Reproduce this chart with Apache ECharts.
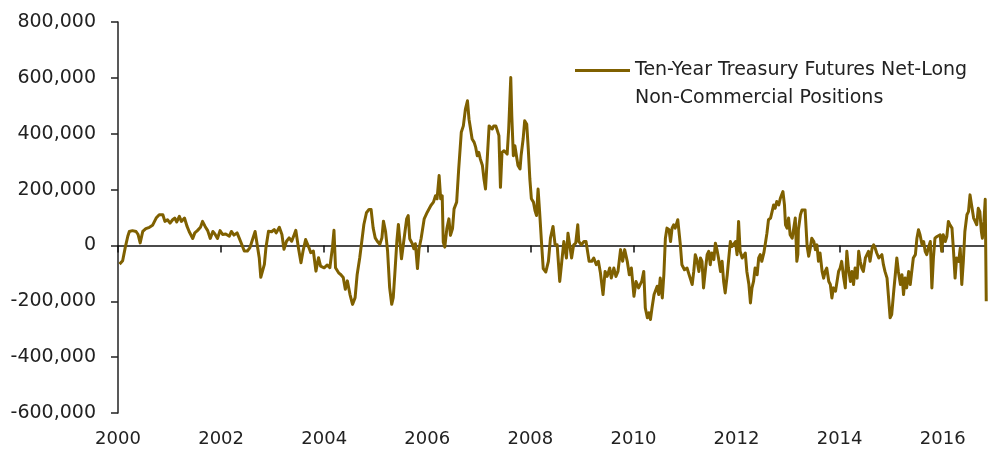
<!DOCTYPE html>
<html>
<head>
<meta charset="utf-8">
<script src="https://cdn.jsdelivr.net/npm/echarts@6/dist/echarts.min.js"></script>
<style>
html,body{margin:0;padding:0;background:#fff;}
#chart{width:988px;height:452px;}
</style>
</head>
<body>
<div id="chart"></div>
<script>
// Decimal-year dates of the readings
const dates = [
2000.03,2000.06,2000.09,2000.14,2000.19,2000.22,2000.28,2000.35,2000.39,2000.43,2000.48,2000.54,2000.61,2000.67,2000.74,2000.80,2000.87,2000.91,2000.96,
2001.01,2001.06,2001.10,2001.14,2001.19,2001.23,2001.29,2001.34,2001.38,2001.45,2001.49,2001.54,2001.60,2001.64,2001.69,2001.74,2001.79,2001.84,2001.88,2001.93,2001.98,
2002.03,2002.09,2002.16,2002.20,2002.25,2002.31,2002.35,2002.40,2002.45,2002.51,2002.56,2002.61,2002.66,2002.69,2002.74,2002.77,2002.79,2002.84,2002.87,2002.92,2002.98,
2003.03,2003.07,2003.13,2003.18,2003.22,2003.27,2003.32,2003.37,2003.42,2003.45,2003.50,2003.55,2003.59,2003.64,2003.70,2003.74,2003.79,2003.84,2003.89,2003.93,
2004.00,2004.06,2004.11,2004.16,2004.19,2004.22,2004.28,2004.32,2004.37,2004.41,2004.45,2004.50,2004.55,2004.60,2004.64,2004.69,2004.73,2004.77,2004.82,2004.87,2004.91,2004.95,2004.99,
2005.03,2005.08,2005.12,2005.15,2005.19,2005.23,2005.27,2005.31,2005.34,2005.37,2005.41,2005.44,2005.50,2005.55,2005.60,2005.63,2005.66,2005.71,2005.74,2005.77,2005.81,2005.84,2005.88,2005.94,
2006.00,2006.07,2006.12,2006.16,2006.19,2006.23,2006.26,2006.29,2006.31,2006.34,2006.38,2006.42,2006.45,2006.49,2006.52,2006.57,2006.61,2006.66,2006.70,2006.74,2006.78,2006.81,2006.84,2006.87,2006.91,2006.94,2006.97,
2007.00,2007.03,2007.07,2007.10,2007.13,2007.16,2007.20,2007.23,2007.26,2007.29,2007.33,2007.36,2007.39,2007.42,2007.45,2007.49,2007.52,2007.55,2007.58,2007.62,2007.64,2007.67,2007.70,2007.73,2007.76,2007.80,2007.82,2007.86,2007.89,2007.93,2007.96,2007.99,
2008.02,2008.06,2008.09,2008.12,2008.15,2008.18,2008.22,2008.25,2008.30,2008.35,2008.39,2008.44,2008.48,2008.52,2008.57,2008.61,2008.65,2008.70,2008.73,2008.76,2008.80,2008.84,2008.88,2008.92,2008.94,2008.99,
2009.04,2009.08,2009.14,2009.19,2009.23,2009.28,2009.32,2009.36,2009.41,2009.45,2009.49,2009.54,2009.57,2009.62,2009.66,2009.70,2009.75,2009.79,2009.83,2009.88,2009.92,2009.96,
2010.01,2010.05,2010.10,2010.16,2010.20,2010.23,2010.27,2010.30,2010.33,2010.36,2010.40,2010.43,2010.46,2010.49,2010.52,2010.56,2010.59,2010.62,2010.65,2010.69,2010.72,2010.75,2010.78,2010.81,2010.86,2010.89,2010.91,2010.94,2010.99,
2011.04,2011.09,2011.14,2011.17,2011.20,2011.23,2011.27,2011.30,2011.33,2011.36,2011.40,2011.43,2011.46,2011.49,2011.52,2011.56,2011.59,2011.62,2011.65,2011.69,2011.72,2011.75,2011.78,2011.82,2011.85,2011.88,2011.91,2011.94,2011.98,
2012.01,2012.04,2012.07,2012.11,2012.14,2012.17,2012.20,2012.24,2012.27,2012.30,2012.33,2012.36,2012.40,2012.43,2012.46,2012.49,2012.53,2012.56,2012.59,2012.62,2012.66,2012.69,2012.72,2012.75,2012.78,2012.82,2012.85,2012.88,2012.90,2012.93,2012.95,2012.98,
2013.01,2013.04,2013.08,2013.11,2013.14,2013.17,2013.19,2013.20,2013.24,2013.27,2013.30,2013.33,2013.37,2013.40,2013.43,2013.46,2013.50,2013.53,2013.56,2013.59,2013.62,2013.66,2013.69,2013.72,2013.75,2013.79,2013.82,2013.85,2013.88,2013.92,2013.95,2013.98,
2014.01,2014.04,2014.08,2014.11,2014.14,2014.17,2014.21,2014.24,2014.27,2014.30,2014.34,2014.37,2014.40,2014.43,2014.46,2014.50,2014.53,2014.56,2014.59,2014.63,2014.66,2014.69,2014.72,2014.76,2014.79,2014.82,2014.85,2014.88,2014.92,2014.95,2014.98,
2015.01,2015.05,2015.08,2015.11,2015.14,2015.18,2015.21,2015.24,2015.27,2015.30,2015.34,2015.37,2015.40,2015.43,2015.47,2015.50,2015.53,2015.56,2015.60,2015.63,2015.66,2015.69,2015.72,2015.76,2015.79,2015.82,2015.85,2015.89,2015.92,2015.95,2015.98,
2016.01,2016.05,2016.08,2016.11,2016.14,2016.18,2016.21,2016.24,2016.27,2016.31,2016.34,2016.37,2016.40,2016.43,2016.47,2016.50,2016.53,2016.56,2016.60,2016.63,2016.66,2016.69,2016.72,2016.75,2016.77,2016.80,2016.825,2016.845
];

// Net-long non-commercial positions, thousands of contracts
const netLongThousands = [
-67,-73,-55,-8,33,50,53,50,39,9,50,60,65,72,98,110,110,86,92,
80,92,98,84,104,86,98,68,50,25,45,53,65,86,68,53,25,50,41,25,53,
39,41,33,50,37,45,27,4,-20,-20,-8,21,50,15,-44,-114,-110,-68,-8,51,49,
57,45,65,39,-14,15,27,15,39,54,-8,-62,-20,21,-6,-26,-20,-92,-44,-74,
-80,-70,-80,-8,54,-80,-98,-104,-115,-157,-127,-175,-211,-187,-104,-44,15,75,117,129,129,63,27,
15,4,27,87,51,-20,-151,-211,-187,-104,15,75,-48,24,95,107,24,6,-12,6,-83,-12,24,95,
119,143,155,178,167,250,167,178,12,-6,60,95,36,60,131,155,274,405,428,488,518,452,417,381,369,351,321,
333,309,286,238,202,298,428,434,417,428,428,411,393,208,333,339,345,327,417,601,464,321,357,321,286,274,321,381,446,434,345,238,
167,155,125,107,202,119,0,-83,-95,-57,26,68,2,2,-129,-57,14,-45,44,38,-45,2,8,74,14,2,
14,14,-57,-57,-45,-69,-57,-99,-176,-93,-111,-81,-117,-81,-111,-93,-15,-57,-15,-57,-105,-81,
-182,-129,-152,-129,-93,-224,-259,-241,-265,-224,-176,-170,-146,-176,-117,-188,-105,26,62,56,14,62,74,62,92,98,2,-69,-87,
-81,-111,-140,-93,-33,-51,-93,-45,-57,-152,-81,-33,-21,-69,-27,-51,8,-15,-45,-93,-57,-129,-170,-105,-45,14,-4,2,14,
-33,86,-21,-45,-51,-27,-93,-140,-206,-152,-129,-81,-105,-45,-33,-57,-27,8,44,92,98,121,145,133,157,145,169,163,193,145,74,62,
98,38,26,62,98,-57,-33,56,110,127,121,127,-4,-39,-10,26,14,-15,2,-57,-27,-93,-117,-93,-81,-129,-140,-188,-152,-164,-129,-93,
-81,-57,-117,-152,-21,-81,-129,-93,-140,-81,-117,-21,-57,-81,-93,-45,-51,-21,-57,-10,2,-10,-27,-45,-51,-33,-69,-93,-117,-188,-259,
-248,-164,-105,-45,-93,-140,-105,-176,-117,-152,-93,-140,-93,-45,-33,26,56,38,2,14,-21,-33,-10,14,-152,-45,26,32,26,38,-21,
38,14,32,86,74,62,-21,-117,-45,-57,-10,-140,-57,50,110,121,181,145,98,86,74,133,121,50,26,86,165,-200
];

const yTicks = [-600000,-400000,-200000,0,200000,400000,600000,800000];
const xTickYears = [2000,2002,2004,2006,2008,2010,2012,2014,2016];
const seriesName = 'Ten-Year Treasury Futures Net-Long Non-Commercial Positions';
const legendLine1 = 'Ten-Year Treasury Futures Net-Long';
const legendLine2 = 'Non-Commercial Positions';

const FONT = 'DejaVu Sans';
const TEXT = '#222';
const chart = echarts.init(document.getElementById('chart'));

const seriesData = dates.map((d, i) => [d, netLongThousands[i] * 1000]);

chart.setOption({
  animation: false,
  backgroundColor: '#fff',
  grid: { left: 118, right: 2, top: 22, bottom: 39, containLabel: false },
  legend: {
    show: true,
    left: 575, top: 61, padding: 0,
    icon: 'rect', itemWidth: 55, itemHeight: 3,
    data: [seriesName],
    formatter: () => legendLine1,
    textStyle: { fontFamily: FONT, fontSize: 19, color: TEXT }
  },
  graphic: [{
    type: 'text', left: 635, top: 89,
    style: { text: legendLine2, font: '19px "DejaVu Sans"', fill: TEXT }
  }],
  xAxis: [{
    type: 'value', min: 2000, max: 2016.84,
    axisLine: { show: true, onZero: true, lineStyle: { color: '#111', width: 1.5 } },
    axisTick: { show: true, length: 7, customValues: xTickYears, lineStyle: { color: '#111', width: 1.5 } },
    axisLabel: { show: false },
    splitLine: { show: false }
  }, {
    type: 'value', min: 2000, max: 2016.84, position: 'bottom',
    axisLine: { show: false, onZero: false },
    axisTick: { show: false },
    axisLabel: {
      show: true, margin: 17, fontFamily: FONT, fontSize: 18, color: TEXT,
      customValues: xTickYears,
      formatter: v => String(Math.round(v))
    },
    splitLine: { show: false }
  }],
  yAxis: {
    type: 'value', min: yTicks[0], max: yTicks[yTicks.length - 1], interval: 200000,
    axisLine: { show: true, lineStyle: { color: '#222', width: 1.5 } },
    axisTick: { show: true, length: 7, lineStyle: { color: '#222', width: 1.5 } },
    axisLabel: {
      margin: 22, fontFamily: FONT, fontSize: 19, color: TEXT,
      formatter: v => v.toLocaleString('en-US')
    },
    splitLine: { show: false }
  },
  series: [{
    name: seriesName,
    type: 'line',
    xAxisIndex: 0,
    data: seriesData,
    symbol: 'none',
    lineStyle: { color: '#7F6000', width: 3, join: 'round' },
    itemStyle: { color: '#7F6000' },
    z: 3
  }]
});
</script>
</body>
</html>
